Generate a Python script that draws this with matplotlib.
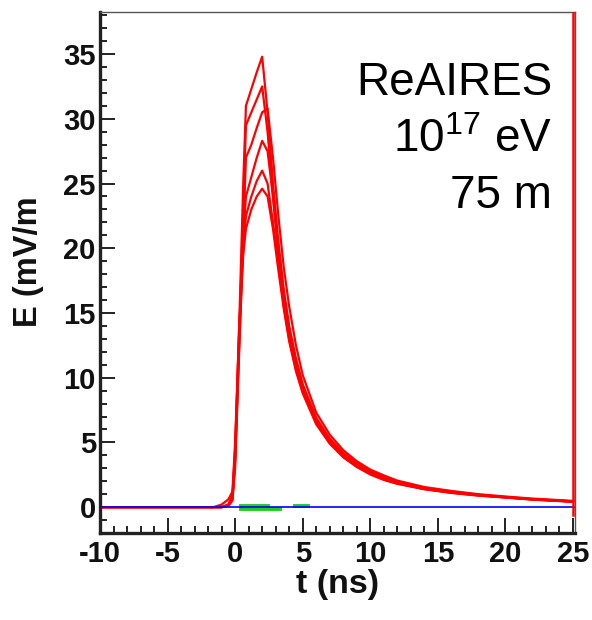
import matplotlib
matplotlib.use("Agg")
import matplotlib.pyplot as plt
from matplotlib.ticker import MultipleLocator

plt.rcParams['font.family'] = ['Liberation Sans', 'DejaVu Sans']
plt.rcParams['mathtext.fontset'] = 'custom'
plt.rcParams['mathtext.rm'] = 'Liberation Sans'
plt.rcParams['mathtext.default'] = 'regular'
plt.rcParams['axes.unicode_minus'] = False

# sample times (ns), shared by all red pulses
t_ns = [-10, -1.6, -1.0, -0.5, -0.2, 0.0, 0.3, 0.6, 0.8, 1.2, 1.6, 2.0, 2.4, 2.8,
        3.2, 3.6, 4.0, 4.5, 5.0, 6.0, 7.0, 8.0, 9.0, 10.0, 11.0, 12.0, 14.0,
        16.0, 18.0, 20.0, 22.0, 25.0]

# field strength E (mV/m) for each simulated antenna trace
pulse_a = [0, 0, 0, 0.2, 0.8, 4.0, 14, 25, 31, 32.3, 33.6, 34.8, 30.5, 25.0,
           20.5, 16.8, 14.0, 11.5, 9.5, 6.9, 5.3, 4.2, 3.4, 2.8, 2.35, 1.95, 1.5,
           1.2, 0.95, 0.78, 0.62, 0.45]
pulse_b = [0, 0, 0, 0.1, 0.6, 3.5, 13, 23, 29.5, 30.5, 31.5, 32.5, 29.0, 24.0,
           19.5, 16.0, 13.2, 10.8, 9.0, 6.6, 5.1, 4.0, 3.25, 2.65, 2.2, 1.85, 1.42,
           1.13, 0.92, 0.76, 0.6, 0.43]
pulse_c = [0, 0, 0, 0.1, 0.5, 3.0, 12, 21, 27, 28, 29.3, 30.5, 30.8, 27.0,
           22.5, 18.5, 15.5, 12.5, 10.2, 7.3, 5.6, 4.4, 3.55, 2.9, 2.45, 2.05, 1.55,
           1.25, 1.0, 0.82, 0.66, 0.48]
pulse_d = [0, 0, 0, 0.2, 0.9, 4.5, 13.5, 21, 24, 25.5, 27, 28.3, 27.5, 24.0,
           20.0, 16.5, 13.8, 11.2, 9.3, 6.8, 5.2, 4.1, 3.3, 2.7, 2.25, 1.9, 1.45,
           1.16, 0.94, 0.77, 0.61, 0.44]
pulse_e = [0, 0, 0, 0.1, 0.7, 3.8, 12.5, 20, 22.5, 24, 25.2, 26, 25.0, 22.0,
           18.8, 15.6, 13.0, 10.7, 8.9, 6.5, 5.0, 3.9, 3.15, 2.58, 2.15, 1.82, 1.4,
           1.11, 0.9, 0.75, 0.59, 0.42]
pulse_f = [0, 0, 0.2, 0.6, 1.2, 5.0, 14, 19.5, 21.5, 23, 24, 24.6, 24.0, 21.5,
           18.3, 15.3, 12.8, 10.5, 8.8, 6.4, 4.9, 3.85, 3.1, 2.52, 2.1, 1.8, 1.38,
           1.1, 0.89, 0.74, 0.58, 0.41]
pulses = [pulse_a, pulse_b, pulse_c, pulse_d, pulse_e, pulse_f]

# last trace jumps off scale at the end of the window
edge_t = [25.0, 25.0]
edge_E = [-0.6, 45.0]

# green traces hovering around zero
green_t = [[0.4, 2.4], [0.4, 3.3], [4.4, 5.4]]
green_E = [[0.12, 0.12], [-0.15, -0.15], [0.12, 0.12]]

# baseline
base_t = [-10, 25.15]
base_E = [0, 0]

fig = plt.figure(figsize=(5.92, 6.2), dpi=100)
ax = fig.add_axes([0.1689, 0.1403, 0.8024, 0.8403])

for p in pulses:
    ax.plot(t_ns, p, color='#ff0000', lw=1.6)
ax.plot(edge_t, edge_E, color='#ff0000', lw=1.8, zorder=3)
for gt, ge in zip(green_t, green_E):
    ax.plot(gt, ge, color='#22cc22', lw=2.8)
ax.plot(base_t, base_E, color='#0000ff', lw=1.2)

ax.set_xlim(-10, 25.15)
ax.set_ylim(-2, 38.25)

ax.xaxis.set_major_locator(MultipleLocator(5))
ax.xaxis.set_minor_locator(MultipleLocator(1))
ax.yaxis.set_major_locator(MultipleLocator(5))
ax.yaxis.set_minor_locator(MultipleLocator(1))
ax.tick_params(which='both', direction='in', top=False, right=False,
               width=1.4, color='#222222')
ax.tick_params(which='major', length=11)
ax.tick_params(which='minor', length=5)
ax.tick_params(axis='x', pad=5)
ax.tick_params(axis='y', pad=3)
for lab in ax.get_xticklabels() + ax.get_yticklabels():
    lab.set_fontsize(21)
    lab.set_fontweight('bold')
    lab.set_color('#111111')

for s in ['left', 'bottom']:
    ax.spines[s].set_linewidth(2.4)
    ax.spines[s].set_color('#222222')
for s in ['top', 'right']:
    ax.spines[s].set_linewidth(1.0)
    ax.spines[s].set_color('#555555')

ax.set_xlabel("t (ns)", fontsize=24.5, fontweight='bold', color='#111111')
ax.xaxis.set_label_coords(0.5, -0.07)
ax.set_ylabel("E (mV/m", fontsize=23.5, fontweight='bold', color='#111111')
ax.yaxis.set_label_coords(-0.118, 0.52)

ax.text(0.9516, 0.8407, "ReAIRES", transform=ax.transAxes, ha='right',
        va='baseline', fontsize=33)
ax.text(0.9516, 0.7313, "10$^{17}$ eV", transform=ax.transAxes, ha='right',
        va='baseline', fontsize=33)
ax.text(0.9516, 0.6238, "75 m", transform=ax.transAxes, ha='right',
        va='baseline', fontsize=33)

fig.savefig("out.png", dpi=100)
